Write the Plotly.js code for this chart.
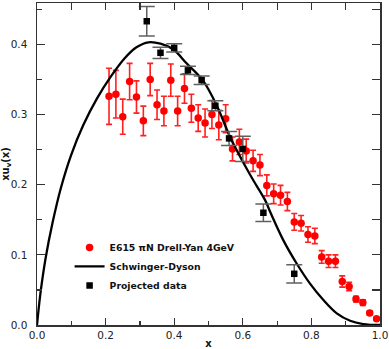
<!DOCTYPE html>
<html>
<head>
<meta charset="utf-8">
<script src="https://cdn.plot.ly/plotly-3.0.1.min.js"></script>
<style>html,body{margin:0;padding:0;background:#fff;}#chart{width:389px;height:349px;}</style>
</head>
<body>
<div id="chart"></div>
<script>
// E615 pi-N Drell-Yan 4 GeV data
var e615X = [0.21,0.23,0.25,0.27,0.29,0.31,0.33,0.35,0.37,0.39,0.41,0.43,0.45,0.47,0.49,0.51,0.53,0.55,0.57,0.59,
             0.61,0.63,0.65,0.67,0.69,0.71,0.73,0.75,0.77,0.79,0.81,0.83,0.85,0.87,0.89,0.91,0.93,0.95,0.97,0.99];
var e615Y = [0.326,0.329,0.297,0.347,0.325,0.291,0.350,0.314,0.305,0.349,0.305,0.337,0.309,0.295,0.288,0.300,0.285,0.294,0.251,0.261,
             0.248,0.234,0.228,0.199,0.187,0.185,0.176,0.147,0.145,0.129,0.127,0.097,0.091,0.091,0.062,0.055,0.037,0.032,0.017,0.009];
var e615Err = [0.040,0.034,0.025,0.026,0.023,0.021,0.023,0.021,0.021,0.023,0.021,0.021,0.020,0.019,0.020,0.020,0.021,0.020,0.017,0.018,
               0.017,0.015,0.015,0.015,0.014,0.014,0.013,0.012,0.011,0.011,0.011,0.009,0.009,0.009,0.008,0.006,0.004,0.004,0.003,0.002];

// Schwinger-Dyson curve
var sdX = [0, 0.010, 0.025, 0.045, 0.070, 0.100, 0.135, 0.175, 0.215, 0.255, 0.290, 0.325, 0.360, 0.397, 0.436, 0.483, 0.524, 0.563,
           0.601, 0.631, 0.665, 0.681, 0.718, 0.757, 0.796, 0.835, 0.874, 0.913, 0.951, 1.0];
var sdY = [0, 0.045, 0.095, 0.145, 0.196, 0.243, 0.285, 0.323, 0.354, 0.380, 0.396, 0.403, 0.401, 0.393, 0.373, 0.349, 0.313, 0.268,
           0.232, 0.206, 0.178, 0.160, 0.121, 0.0877, 0.059, 0.0356, 0.0166, 0.006, 0.0014, 0];

// Projected data
var projX = [0.32, 0.36, 0.40, 0.44, 0.48, 0.52, 0.56, 0.60, 0.66, 0.75];
var projY = [0.433, 0.388, 0.395, 0.363, 0.349, 0.3125, 0.266, 0.251, 0.160, 0.073];
var projErr = [0.021, 0.008, 0.006, 0.006, 0.006, 0.007, 0.010, 0.018, 0.0125, 0.013];

var seriesNames = ['E615 \u03c0N Drell-Yan 4GeV', 'Schwinger-Dyson', 'Projected data'];
var xTitle = '<b>x</b>';
var yTitle = '<b>xu<sub>v</sub>(x)</b>';

var FONT = 'DejaVu Sans, Arial, sans-serif';
var AX = '#333333';

var traces = [
  {
    type: 'scatter', mode: 'markers', name: seriesNames[0],
    x: e615X, y: e615Y,
    marker: {symbol: 'circle', size: 7.5, color: '#ff0000'},
    error_y: {type: 'data', array: e615Err, visible: true, color: '#ff2020', thickness: 1.6, width: 3}
  },
  {
    type: 'scatter', mode: 'lines', name: seriesNames[1],
    x: sdX, y: sdY,
    line: {color: '#000000', width: 2.3, shape: 'spline', smoothing: 1}
  },
  {
    type: 'scatter', mode: 'markers', name: seriesNames[2],
    x: projX, y: projY,
    marker: {symbol: 'square', size: 6.5, color: '#000000'},
    error_y: {type: 'data', array: projErr, visible: true, color: '#606060', thickness: 1.5, width: 8}
  },
  {
    type: 'scatter', mode: 'markers', x: [], y: [], xaxis: 'x2', yaxis: 'y2',
    showlegend: false, hoverinfo: 'skip'
  }
];

var layout = {
  width: 389, height: 349,
  margin: {l: 37, r: 9, t: 3, b: 24, pad: 0},
  paper_bgcolor: '#ffffff', plot_bgcolor: '#ffffff',
  font: {family: FONT, size: 10.5, color: '#222222'},
  showlegend: true,
  legend: {
    x: 0.095, y: 0.286, xanchor: 'left', yanchor: 'top',
    bgcolor: 'rgba(0,0,0,0)', borderwidth: 0,
    font: {family: FONT, size: 9.3, color: '#111111', weight: 'bold'},
    itemwidth: 30, tracegroupgap: 0
  },
  xaxis: {
    range: [0, 1], autorange: false,
    tick0: 0, dtick: 0.2, tickformat: '.1f',
    ticks: 'inside', ticklen: 7, tickwidth: 1.2, tickcolor: AX,
    minor: {dtick: 0.1, ticks: 'inside', ticklen: 4, tickwidth: 1.2, tickcolor: AX, showgrid: false},
    showline: true, linecolor: AX, linewidth: 1.5,
    showgrid: false, zeroline: false,
    tickfont: {family: FONT, size: 10.5, color: '#222222'},
    title: {text: xTitle, font: {family: FONT, size: 10, color: '#111111'}, standoff: 3},
    automargin: false
  },
  xaxis2: {
    overlaying: 'x', side: 'top', anchor: 'y',
    range: [0, 1], autorange: false,
    tick0: 0, dtick: 0.1,
    ticks: 'inside', ticklen: 7, tickwidth: 1.2, tickcolor: AX,
    showticklabels: false,
    showline: true, linecolor: AX, linewidth: 1.5,
    showgrid: false, zeroline: false
  },
  yaxis: {
    range: [0, 0.459], autorange: false,
    tick0: 0, dtick: 0.1, tickformat: '.1f',
    ticks: 'inside', ticklen: 8, tickwidth: 1.2, tickcolor: AX,
    minor: {dtick: 0.05, ticks: 'inside', ticklen: 5, tickwidth: 1.2, tickcolor: AX, showgrid: false},
    showline: true, linecolor: AX, linewidth: 1.5,
    showgrid: false, zeroline: false,
    ticklabelstandoff: 6,
    tickfont: {family: FONT, size: 10.5, color: '#222222'},
    title: {text: yTitle, font: {family: FONT, size: 10, color: '#111111'}, standoff: 4},
    automargin: false
  },
  yaxis2: {
    overlaying: 'y', side: 'right', anchor: 'x',
    range: [0, 0.459], autorange: false,
    tick0: 0, dtick: 0.05,
    ticks: 'inside', ticklen: 8, tickwidth: 1.2, tickcolor: AX,
    showticklabels: false,
    showline: true, linecolor: AX, linewidth: 1.5,
    showgrid: false, zeroline: false
  }
};

Plotly.newPlot('chart', traces, layout, {staticPlot: true, displayModeBar: false});
</script>
</body>
</html>
